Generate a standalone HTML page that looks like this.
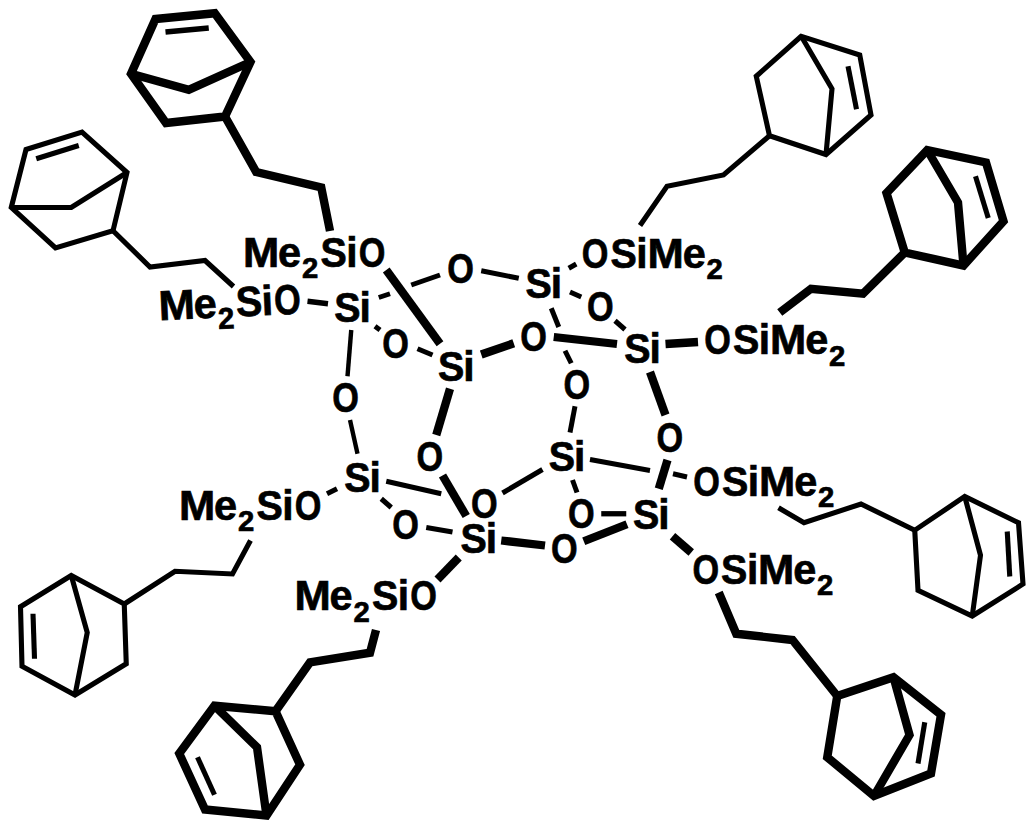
<!DOCTYPE html>
<html><head><meta charset="utf-8"><style>
html,body{margin:0;padding:0;background:#fff;width:1034px;height:828px;overflow:hidden;font-family:"Liberation Sans",sans-serif;}
svg{display:block}
</style></head><body>
<svg width="1034" height="828" viewBox="0 0 1034 828">
<g fill="none" stroke="#000" stroke-linejoin="miter" stroke-miterlimit="10" stroke-linecap="butt">
<path d="M155.5,19 L214.75,13.25 L250.5,62 L225,116.5 L166,123 L131,73.75 Z" stroke-width="8.4"/>
<path d="M131,73.75 L188.75,89.75 L250.5,62" stroke-width="8.4"/>
<path d="M165.5,32 L208.75,28" stroke-width="5.5"/>
<path d="M225,116.5 L256.25,172 L321.25,187.5 L330,231" stroke-width="8.4"/>
<path d="M26,149.5 L82,132 L127,172.5 L113,230.75 L55.5,248 L11.25,207.5 Z" stroke-width="5.1"/>
<path d="M11.25,207.5 L71.25,207.5 L127,172.5" stroke-width="5.1"/>
<path d="M36.25,158.75 L78.75,145.5" stroke-width="5.1"/>
<path d="M113,230.75 L150,267 L205,260.5 L233.5,286.5" stroke-width="5.1"/>
<path d="M801.25,36.25 L756.25,76.25 L769.5,135.75 L826,154.5 L871,115 L859.75,55 Z" stroke-width="5.1"/>
<path d="M801.25,36.25 L832,88.75 L826,154.5" stroke-width="5.1"/>
<path d="M848,66.25 L856.5,109.25" stroke-width="5.1"/>
<path d="M769.5,135.75 L723.5,175 L667,186.25 L640,225.5" stroke-width="5.1"/>
<path d="M927.25,150 L986,162.5 L1003.5,221.25 L963.5,265.5 L904.75,252.5 L886.5,193 Z" stroke-width="8.4"/>
<path d="M927.25,150 L958,202.5 L963.5,265.5" stroke-width="8.4"/>
<path d="M975.5,176.25 L988.25,218" stroke-width="5.1"/>
<path d="M904.75,252.5 L863,293.75 L811,288.75 L779.75,312.5" stroke-width="8.4"/>
<path d="M914.75,530.25 L964.75,496.5 L1018.5,522.75 L1023,584 L972.25,616 L918,590.25 Z" stroke-width="5.1"/>
<path d="M964.75,496.5 L980.5,555.25 L972.25,616" stroke-width="5.1"/>
<path d="M1007.25,531.5 L1009.75,576.5" stroke-width="5.1"/>
<path d="M914.75,530.25 L861,504 L804,522.75 L778.5,507.75" stroke-width="5.1"/>
<path d="M124.25,604 L71.25,575.5 L20.5,606.75 L22,666.25 L75,695 L126.25,663.75 Z" stroke-width="5.1"/>
<path d="M71.25,575.5 L87.25,632.5 L75,695" stroke-width="5.1"/>
<path d="M33,613.75 L34.5,658.75" stroke-width="5.1"/>
<path d="M124.25,604 L175,571.25 L232.5,574 L250.5,540.5" stroke-width="5.1"/>
<path d="M275.5,711.25 L214.5,705.75 L179.25,753.5 L205,809.5 L266.5,815.5 L300,764.75 Z" stroke-width="8.4"/>
<path d="M214.5,705.75 L257,747.25 L266.5,815.5" stroke-width="8.4"/>
<path d="M197.5,757.25 L214.5,794.75" stroke-width="5.1"/>
<path d="M275.5,711.25 L310,662.25 L370,652.75 L376,630" stroke-width="8.4"/>
<path d="M837.25,696 L893.5,677.25 L941,714.75 L931,773.5 L874,796 L827.25,757.25 Z" stroke-width="8.4"/>
<path d="M893.5,677.25 L909.5,735 L874,796" stroke-width="8.4"/>
<path d="M924.75,722.25 L918,763.5" stroke-width="5.1"/>
<path d="M837.25,696 L792.5,640 L736.25,633.75 L718.75,592.5" stroke-width="8.4"/>
<path d="M307.5,301.25 L328,303.75" stroke-width="5.3"/>
<path d="M386.25,270 L440,343.75" stroke-width="8.3"/>
<path d="M378.75,297.5 L390,293.75" stroke-width="5.0"/>
<path d="M411.25,285 L440,275" stroke-width="5.0"/>
<path d="M481.25,270.75 L518.75,278.25" stroke-width="5.0"/>
<path d="M568.75,268.25 L576.25,264" stroke-width="5.0"/>
<path d="M570,292 L581.25,297" stroke-width="5.0"/>
<path d="M615,320.75 L625,329.5" stroke-width="5.0"/>
<path d="M551.25,308.25 L558.75,327" stroke-width="5.0"/>
<path d="M565,350.75 L571.25,363.25" stroke-width="5.0"/>
<path d="M553.75,337 L617,344" stroke-width="8.3"/>
<path d="M481.25,354.5 L513.75,343.25" stroke-width="8.3"/>
<path d="M375,326.25 L380,330" stroke-width="5.0"/>
<path d="M417.5,348.75 L432.5,355" stroke-width="5.0"/>
<path d="M351.25,330 L347.5,376.25" stroke-width="4.4"/>
<path d="M350,420 L357.5,453.75" stroke-width="4.4"/>
<path d="M450,388.75 L436.25,435" stroke-width="8.3"/>
<path d="M442.5,475.5 L466.25,516" stroke-width="8.3"/>
<path d="M386.25,481.25 L441.25,493.75" stroke-width="5.0"/>
<path d="M381.25,498.75 L391.25,507.5" stroke-width="5.0"/>
<path d="M327,493.75 L337,488.75" stroke-width="5.0"/>
<path d="M665.5,344 L698,342" stroke-width="8.3"/>
<path d="M650,372 L665.5,415" stroke-width="8.3"/>
<path d="M575,406.25 L570,432.5" stroke-width="5.0"/>
<path d="M590,459.5 L650,470.5" stroke-width="5.0"/>
<path d="M572.5,480 L577,492.5" stroke-width="5.0"/>
<path d="M601.25,513.75 L626.25,513.75" stroke-width="5.3"/>
<path d="M501.25,540.5 L545,545.5" stroke-width="8.3"/>
<path d="M583.75,541.25 L627,524.25" stroke-width="8.3"/>
<path d="M502.5,493 L542.5,469.5" stroke-width="5.0"/>
<path d="M426.25,527.5 L452.5,532" stroke-width="5.0"/>
<path d="M458.75,557.5 L437.5,579.5" stroke-width="8.3"/>
<path d="M667.5,460 L658.75,488.75" stroke-width="8.3"/>
<path d="M673,473.75 L687,477" stroke-width="5.0"/>
<path d="M672.5,536.25 L691.25,552.5" stroke-width="8.3"/>
</g>
<g fill="#000" stroke="#000" stroke-width="0.7" font-family="Liberation Sans" font-weight="bold">
<text transform="translate(243.09,266.70) scale(1.0385,1)" font-size="41.93">M</text><text transform="translate(278.08,266.70) scale(0.9876,1)" font-size="41.93">e</text><text transform="translate(301.98,278.20) scale(0.9808,1)" font-size="29.86">2</text><text transform="translate(320.56,266.70) scale(0.9414,1)" font-size="41.93">S</text><text transform="translate(346.35,266.70) scale(0.9733,1)" font-size="41.93">i</text><text transform="translate(358.80,266.70) scale(0.8168,1)" font-size="41.93">O</text>
<g transform="rotate(-2.66,162.1,320.0)"><text transform="translate(159.19,320.00) scale(1.0385,1)" font-size="41.93">M</text><text transform="translate(194.18,320.00) scale(0.9876,1)" font-size="41.93">e</text><text transform="translate(218.08,331.50) scale(0.9808,1)" font-size="29.86">2</text><text transform="translate(236.66,320.00) scale(0.9414,1)" font-size="41.93">S</text><text transform="translate(262.45,320.00) scale(0.9733,1)" font-size="41.93">i</text><text transform="translate(274.90,320.00) scale(0.8168,1)" font-size="41.93">O</text></g>
<text transform="translate(179.09,519.50) scale(1.0385,1)" font-size="41.93">M</text><text transform="translate(214.08,519.50) scale(0.9876,1)" font-size="41.93">e</text><text transform="translate(237.98,531.00) scale(0.9808,1)" font-size="29.86">2</text><text transform="translate(256.56,519.50) scale(0.9414,1)" font-size="41.93">S</text><text transform="translate(282.35,519.50) scale(0.9733,1)" font-size="41.93">i</text><text transform="translate(294.80,519.50) scale(0.8168,1)" font-size="41.93">O</text>
<text transform="translate(294.59,610.00) scale(1.0385,1)" font-size="41.93">M</text><text transform="translate(329.58,610.00) scale(0.9876,1)" font-size="41.93">e</text><text transform="translate(353.48,621.50) scale(0.9808,1)" font-size="29.86">2</text><text transform="translate(372.06,610.00) scale(0.9414,1)" font-size="41.93">S</text><text transform="translate(397.85,610.00) scale(0.9733,1)" font-size="41.93">i</text><text transform="translate(410.30,610.00) scale(0.8168,1)" font-size="41.93">O</text>
<text transform="translate(581.80,267.50) scale(0.8168,1)" font-size="41.93">O</text><text transform="translate(610.46,267.50) scale(0.9414,1)" font-size="41.93">S</text><text transform="translate(636.35,267.50) scale(0.9733,1)" font-size="41.93">i</text><text transform="translate(647.39,267.50) scale(1.0385,1)" font-size="41.93">M</text><text transform="translate(682.68,267.50) scale(0.9876,1)" font-size="41.93">e</text><text transform="translate(706.48,279.00) scale(0.9808,1)" font-size="29.86">2</text>
<text transform="translate(704.30,354.40) scale(0.8168,1)" font-size="41.93">O</text><text transform="translate(732.96,354.40) scale(0.9414,1)" font-size="41.93">S</text><text transform="translate(758.85,354.40) scale(0.9733,1)" font-size="41.93">i</text><text transform="translate(769.89,354.40) scale(1.0385,1)" font-size="41.93">M</text><text transform="translate(805.18,354.40) scale(0.9876,1)" font-size="41.93">e</text><text transform="translate(828.98,365.90) scale(0.9808,1)" font-size="29.86">2</text>
<text transform="translate(693.30,495.50) scale(0.8168,1)" font-size="41.93">O</text><text transform="translate(721.96,495.50) scale(0.9414,1)" font-size="41.93">S</text><text transform="translate(747.85,495.50) scale(0.9733,1)" font-size="41.93">i</text><text transform="translate(758.89,495.50) scale(1.0385,1)" font-size="41.93">M</text><text transform="translate(794.18,495.50) scale(0.9876,1)" font-size="41.93">e</text><text transform="translate(817.98,507.00) scale(0.9808,1)" font-size="29.86">2</text>
<text transform="translate(692.40,583.80) scale(0.8168,1)" font-size="41.93">O</text><text transform="translate(721.06,583.80) scale(0.9414,1)" font-size="41.93">S</text><text transform="translate(746.95,583.80) scale(0.9733,1)" font-size="41.93">i</text><text transform="translate(757.99,583.80) scale(1.0385,1)" font-size="41.93">M</text><text transform="translate(793.28,583.80) scale(0.9876,1)" font-size="41.93">e</text><text transform="translate(817.08,595.30) scale(0.9808,1)" font-size="29.86">2</text>
<text transform="translate(334.16,322.25) scale(0.9414,1)" font-size="41.93">S</text><text transform="translate(359.55,322.25) scale(0.9733,1)" font-size="41.93">i</text>
<text transform="translate(437.91,380.50) scale(0.9414,1)" font-size="41.93">S</text><text transform="translate(463.30,380.50) scale(0.9733,1)" font-size="41.93">i</text>
<text transform="translate(525.41,298.00) scale(0.9414,1)" font-size="41.93">S</text><text transform="translate(550.80,298.00) scale(0.9733,1)" font-size="41.93">i</text>
<text transform="translate(624.16,363.00) scale(0.9414,1)" font-size="41.93">S</text><text transform="translate(649.55,363.00) scale(0.9733,1)" font-size="41.93">i</text>
<text transform="translate(344.16,492.00) scale(0.9414,1)" font-size="41.93">S</text><text transform="translate(369.55,492.00) scale(0.9733,1)" font-size="41.93">i</text>
<text transform="translate(548.66,471.25) scale(0.9414,1)" font-size="41.93">S</text><text transform="translate(574.05,471.25) scale(0.9733,1)" font-size="41.93">i</text>
<text transform="translate(460.41,552.75) scale(0.9414,1)" font-size="41.93">S</text><text transform="translate(485.80,552.75) scale(0.9733,1)" font-size="41.93">i</text>
<text transform="translate(632.91,528.90) scale(0.9414,1)" font-size="41.93">S</text><text transform="translate(658.30,528.90) scale(0.9733,1)" font-size="41.93">i</text>
<text transform="translate(447.25,283.10) scale(0.8168,1)" font-size="41.93">O</text>
<text transform="translate(587.00,320.60) scale(0.8168,1)" font-size="41.93">O</text>
<text transform="translate(382.25,358.10) scale(0.8168,1)" font-size="41.93">O</text>
<text transform="translate(520.25,351.35) scale(0.8168,1)" font-size="41.93">O</text>
<text transform="translate(563.50,398.85) scale(0.8168,1)" font-size="41.93">O</text>
<text transform="translate(332.25,411.85) scale(0.8168,1)" font-size="41.93">O</text>
<text transform="translate(416.50,470.60) scale(0.8168,1)" font-size="41.93">O</text>
<text transform="translate(471.00,518.10) scale(0.8168,1)" font-size="41.93">O</text>
<text transform="translate(568.00,528.10) scale(0.8168,1)" font-size="41.93">O</text>
<text transform="translate(551.00,563.10) scale(0.8168,1)" font-size="41.93">O</text>
<text transform="translate(656.50,451.85) scale(0.8168,1)" font-size="41.93">O</text>
<text transform="translate(392.25,538.60) scale(0.8168,1)" font-size="41.93">O</text>
</g>
</svg>
</body></html>
